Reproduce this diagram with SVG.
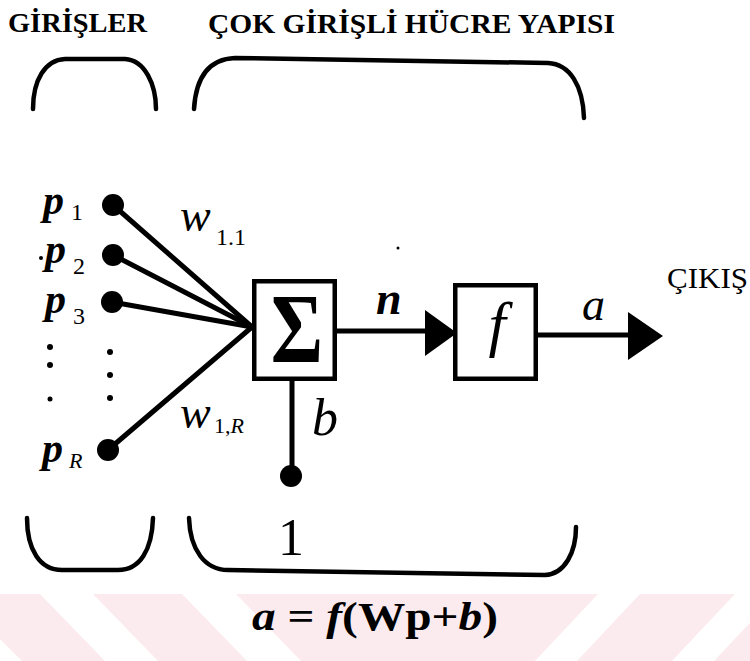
<svg xmlns="http://www.w3.org/2000/svg" width="750" height="661" viewBox="0 0 750 661">
<style>
text{font-family:"Liberation Serif","Times New Roman",serif;fill:#000}
.title{font-size:28px;font-weight:bold}
.it{font-style:italic}
.bi{font-style:italic;font-weight:bold}
.sub{font-size:24px}
.br{fill:none;stroke:#000;stroke-width:4.5;stroke-linecap:round;stroke-linejoin:round}
.ln{stroke:#000;stroke-width:5;stroke-linecap:round;fill:none}
.box{fill:none;stroke:#000;stroke-width:4.5}
.dot{fill:#000}
.wm{fill:#fcebee}
.wh{fill:#fff}
</style>
<rect width="750" height="661" fill="#fff"/>
<g id="watermark">
<rect class="wm" x="0" y="594" width="750" height="67"/>
<polygon class="wh" points="-98,594 -45,594 22,661 -31,661"/>
<polygon class="wh" points="40,594 93,594 158,661 105,661"/>
<polygon class="wh" points="182,594 236,594 301,661 247,661"/>
<polygon class="wh" points="598,594 640,594 577,661 535,661"/>
<polygon class="wh" points="735,594 777,594 714,661 672,661"/>
</g>
<g id="titles">
<text class="title" x="8" y="32" textLength="139" lengthAdjust="spacingAndGlyphs">GİRİŞLER</text>
<text class="title" x="208" y="33" textLength="407" lengthAdjust="spacingAndGlyphs">ÇOK GİRİŞLİ HÜCRE YAPISI</text>
</g>
<g id="brackets">
<path class="br" d="M33,109 C33,80 45,60 65,59 L125,59 C145,60 156,85 156,109"/>
<path class="br" d="M194,109 C196,76 210,59 235,58 L548,63 C570,64 583,86 584,118"/>
<path class="br" d="M27,518 C27,550 40,570 62,570 L118,570 C140,570 152,550 153,518"/>
<path class="br" d="M189,518 C190,550 205,570 228,570 L545,575 C565,574 576,552 576,527"/>
</g>
<g id="connectors">
<line class="ln" x1="113" y1="205" x2="252" y2="327"/>
<line class="ln" x1="113" y1="255" x2="252" y2="327"/>
<line class="ln" x1="112" y1="302" x2="252" y2="327"/>
<line class="ln" x1="108" y1="450" x2="252" y2="327"/>
<line class="ln" x1="337" y1="331" x2="428" y2="331" stroke-linecap="butt"/>
<polygon class="dot" points="425,310 425,356 457,333"/>
<line class="ln" x1="538" y1="335" x2="630" y2="335" stroke-linecap="butt"/>
<polygon class="dot" points="628,312 628,360 663,336"/>
<line class="ln" x1="292" y1="381" x2="292" y2="470" stroke-width="4"/>
</g>
<g id="inputs">
<g id="p1">
<circle class="dot" cx="113" cy="205" r="11"/>
<text class="bi" x="43" y="214" font-size="42">p</text>
<text class="sub" x="71" y="220">1</text>
</g>
<g id="p2">
<circle class="dot" cx="113" cy="255" r="11"/>
<circle class="dot" cx="41" cy="258" r="2"/>
<text class="bi" x="45" y="263" font-size="42">p</text>
<text class="sub" x="73" y="274">2</text>
</g>
<g id="p3">
<circle class="dot" cx="112" cy="302" r="11"/>
<text class="bi" x="45" y="313" font-size="42">p</text>
<text class="sub" x="73" y="324">3</text>
</g>
<g id="ellipsis">
<circle class="dot" cx="50" cy="347" r="3"/>
<circle class="dot" cx="50" cy="365" r="3"/>
<circle class="dot" cx="50" cy="399" r="2.5"/>
<circle class="dot" cx="110" cy="352" r="3"/>
<circle class="dot" cx="110" cy="375" r="3"/>
<circle class="dot" cx="110" cy="398" r="3"/>
</g>
<g id="pR">
<circle class="dot" cx="108" cy="450" r="11"/>
<text class="bi" x="42" y="462" font-size="42">p</text>
<text class="it" x="69" y="468" font-size="22">R</text>
</g>
</g>
<g id="weights">
<text class="it" x="180" y="231" font-size="46">w</text>
<text class="sub" x="216" y="245">1.1</text>
<text class="it" x="180" y="428" font-size="46">w</text>
<text x="214" y="433" font-size="22">1,<tspan font-style="italic">R</tspan></text>
</g>
<g id="sum">
<rect class="box" x="254.25" y="281.25" width="80.5" height="97.5"/>
<text font-weight="bold" font-size="100" text-anchor="middle" transform="translate(297,362) scale(0.8,1)">Σ</text>
</g>
<g id="bias">
<circle class="dot" cx="291" cy="476" r="11"/>
<text class="it" x="312" y="435" font-size="52">b</text>
<text x="291" y="555" font-size="52" text-anchor="middle">1</text>
</g>
<g id="netlabel">
<text class="bi" x="376" y="314" font-size="46">n</text>
<circle class="dot" cx="398" cy="248" r="1.5"/>
</g>
<g id="transfer">
<rect class="box" x="455.25" y="285.25" width="80.5" height="93.5"/>
<text class="it" x="497" y="345" font-size="62" text-anchor="middle">f</text>
</g>
<g id="output">
<text class="it" x="582" y="320" font-size="46">a</text>
<text x="667" y="288" font-size="30" textLength="81" lengthAdjust="spacingAndGlyphs">ÇIKIŞ</text>
</g>
<g id="formula">
<text x="252" y="630" font-size="40" font-weight="bold" textLength="246" lengthAdjust="spacingAndGlyphs"><tspan font-style="italic">a</tspan> = <tspan font-style="italic">f</tspan>(Wp+<tspan font-style="italic">b</tspan>)</text>
</g>
</svg>
